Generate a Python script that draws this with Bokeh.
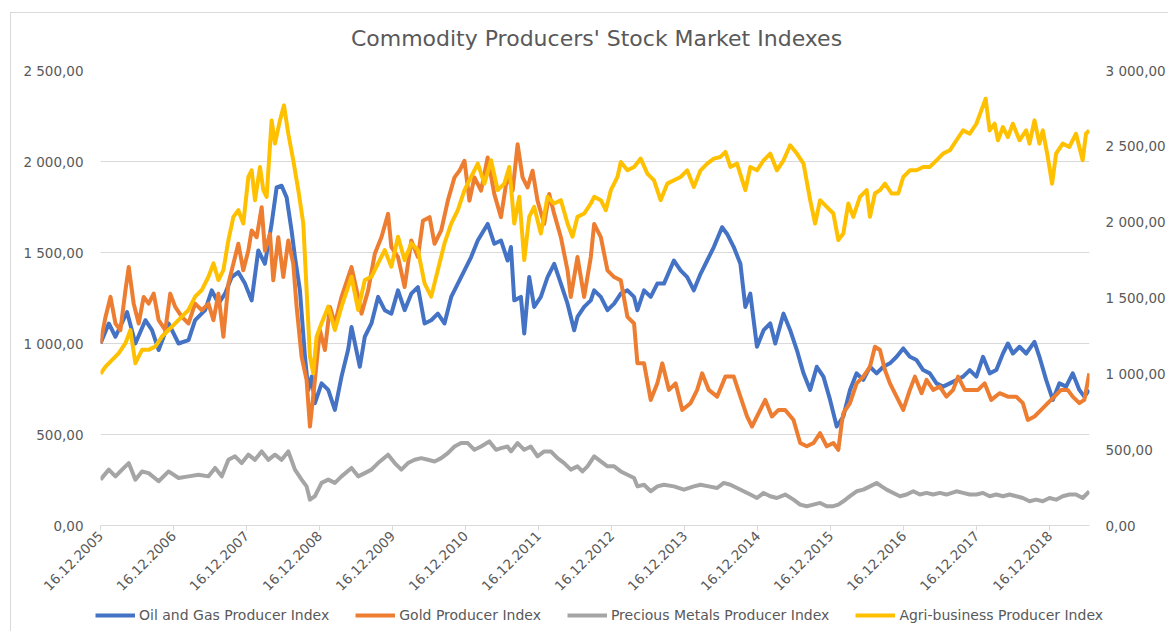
from datetime import datetime
from bokeh.plotting import figure
from bokeh.layouts import column
from bokeh.models import (Range1d, LinearAxis, FixedTicker, DatetimeTickFormatter,
                          Legend, LegendItem, Label)
from bokeh.embed import file_html
from bokeh.resources import INLINE

TITLE = "Commodity Producers' Stock Market Indexes"
NAMES = ["Oil and Gas Producer Index", "Gold Producer Index",
         "Precious Metals Producer Index", "Agri-business Producer Index"]
COLORS = ["#4472C4", "#ED7D31", "#A5A5A5", "#FFC000"]

# x values are decimal years
oil_t = [2005.956, 2006.070, 2006.161, 2006.320, 2006.434, 2006.571, 2006.662, 2006.753, 2006.889, 2007.026,
         2007.162, 2007.253, 2007.390, 2007.481, 2007.572, 2007.663, 2007.754, 2007.845, 2007.936, 2008.027,
         2008.118, 2008.209, 2008.300, 2008.369, 2008.437, 2008.505, 2008.573, 2008.619, 2008.687, 2008.756,
         2008.801, 2008.847, 2008.892, 2008.983, 2009.074, 2009.165, 2009.256, 2009.348, 2009.393, 2009.507,
         2009.575, 2009.666, 2009.757, 2009.848, 2009.939, 2010.030, 2010.121, 2010.212, 2010.303, 2010.394,
         2010.485, 2010.576, 2010.667, 2010.759, 2010.850, 2010.941, 2011.032, 2011.123, 2011.259, 2011.350,
         2011.441, 2011.532, 2011.578, 2011.623, 2011.714, 2011.760, 2011.828, 2011.896, 2011.987, 2012.079,
         2012.170, 2012.261, 2012.352, 2012.443, 2012.488, 2012.579, 2012.670, 2012.716, 2012.807, 2012.898,
         2012.989, 2013.080, 2013.171, 2013.262, 2013.308, 2013.399, 2013.490, 2013.581, 2013.672, 2013.808,
         2013.899, 2013.990, 2014.081, 2014.173, 2014.264, 2014.355, 2014.468, 2014.537, 2014.628, 2014.719,
         2014.787, 2014.855, 2014.946, 2015.037, 2015.128, 2015.197, 2015.310, 2015.401, 2015.493, 2015.584,
         2015.675, 2015.766, 2015.857, 2015.948, 2016.039, 2016.129, 2016.220, 2016.311, 2016.402, 2016.493,
         2016.584, 2016.675, 2016.766, 2016.857, 2016.948, 2017.039, 2017.130, 2017.221, 2017.312, 2017.403,
         2017.494, 2017.586, 2017.677, 2017.768, 2017.859, 2017.950, 2018.041, 2018.132, 2018.223, 2018.314,
         2018.382, 2018.450, 2018.541, 2018.632, 2018.746, 2018.814, 2018.906, 2018.997, 2019.088, 2019.179,
         2019.270, 2019.361, 2019.429, 2019.497]
oil_v = [1000, 1110, 1037, 1173, 1000, 1128, 1073, 964, 1110, 1000,
         1018, 1128, 1183, 1292, 1219, 1274, 1365, 1392, 1329, 1237,
         1511, 1438, 1657, 1858, 1867, 1803, 1620, 1475, 1292, 927,
         745, 818, 672, 781, 745, 635, 818, 968, 1091, 872,
         1037, 1110, 1256, 1183, 1164, 1292, 1183, 1274, 1310, 1110,
         1128, 1164, 1110, 1256, 1329, 1402, 1475, 1566, 1657, 1548,
         1566, 1456, 1530, 1237, 1256, 1055, 1365, 1201, 1256, 1365,
         1438, 1329, 1219, 1073, 1146, 1201, 1237, 1292, 1256, 1183,
         1219, 1274, 1292, 1256, 1183, 1292, 1256, 1329, 1329, 1456,
         1402, 1365, 1292, 1383, 1456, 1530, 1639, 1602, 1530, 1438,
         1201, 1274, 982, 1073, 1110, 1000, 1164, 1073, 964, 836,
         745, 872, 818, 690, 544, 599, 745, 836, 800, 872,
         836, 872, 891, 927, 973, 927, 909, 854, 836, 781,
         763, 781, 800, 818, 854, 818, 927, 836, 854, 945,
         1000, 945, 982, 945, 1009, 927, 800, 690, 781, 763,
         836, 745, 708, 745]

gold_t = [2005.956, 2006.025, 2006.093, 2006.161, 2006.229, 2006.298, 2006.343, 2006.411, 2006.480, 2006.548,
          2006.616, 2006.685, 2006.753, 2006.844, 2006.912, 2006.980, 2007.071, 2007.162, 2007.253, 2007.345,
          2007.436, 2007.504, 2007.572, 2007.640, 2007.709, 2007.800, 2007.845, 2007.913, 2007.982, 2008.027,
          2008.096, 2008.164, 2008.209, 2008.278, 2008.323, 2008.391, 2008.460, 2008.528, 2008.596, 2008.642,
          2008.710, 2008.778, 2008.824, 2008.892, 2008.960, 2009.029, 2009.097, 2009.165, 2009.256, 2009.393,
          2009.484, 2009.530, 2009.621, 2009.712, 2009.803, 2009.894, 2009.939, 2010.030, 2010.121, 2010.212,
          2010.303, 2010.372, 2010.463, 2010.531, 2010.622, 2010.713, 2010.804, 2010.872, 2010.941, 2011.009,
          2011.077, 2011.168, 2011.259, 2011.350, 2011.441, 2011.532, 2011.601, 2011.669, 2011.737, 2011.805,
          2011.874, 2011.942, 2012.033, 2012.101, 2012.170, 2012.261, 2012.352, 2012.397, 2012.488, 2012.579,
          2012.670, 2012.716, 2012.807, 2012.898, 2012.989, 2013.080, 2013.171, 2013.262, 2013.308, 2013.399,
          2013.490, 2013.581, 2013.649, 2013.740, 2013.831, 2013.922, 2014.036, 2014.127, 2014.195, 2014.286,
          2014.400, 2014.514, 2014.628, 2014.719, 2014.810, 2014.878, 2014.969, 2015.060, 2015.151, 2015.242,
          2015.333, 2015.447, 2015.538, 2015.629, 2015.720, 2015.811, 2015.902, 2015.993, 2016.061, 2016.107,
          2016.129, 2016.220, 2016.311, 2016.402, 2016.493, 2016.561, 2016.630, 2016.698, 2016.766, 2016.857,
          2016.948, 2017.039, 2017.108, 2017.199, 2017.267, 2017.358, 2017.449, 2017.540, 2017.631, 2017.699,
          2017.790, 2017.881, 2017.972, 2018.063, 2018.154, 2018.268, 2018.382, 2018.496, 2018.587, 2018.655,
          2018.746, 2018.837, 2018.928, 2019.019, 2019.110, 2019.201, 2019.270, 2019.361, 2019.429, 2019.497]
gold_v = [1000, 1146, 1256, 1110, 1073, 1292, 1420, 1219, 1110, 1256,
          1219, 1274, 1128, 1073, 1274, 1201, 1146, 1110, 1219, 1183,
          1219, 1128, 1274, 1037, 1329, 1475, 1548, 1402, 1511, 1621,
          1584, 1749, 1511, 1602, 1347, 1584, 1365, 1566, 1438, 1201,
          927, 800, 544, 800, 1073, 964, 1201, 1110, 1256, 1420,
          1256, 1164, 1292, 1493, 1584, 1712, 1530, 1475, 1310, 1566,
          1475, 1675, 1694, 1548, 1621, 1785, 1913, 1949, 2004, 1785,
          1913, 1840, 2022, 1821, 1694, 1931, 1840, 2095, 1913, 1858,
          1949, 1785, 1657, 1821, 1712, 1584, 1402, 1256, 1475, 1256,
          1475, 1657, 1584, 1402, 1365, 1347, 1146, 1110, 891, 891,
          690, 781, 891, 745, 781, 635, 672, 745, 836, 745,
          708, 818, 818, 708, 599, 544, 617, 690, 599, 635,
          635, 580, 453, 435, 453, 507, 435, 453, 416, 562,
          617, 672, 781, 818, 872, 982, 964, 854, 781, 708,
          635, 745, 818, 727, 800, 745, 763, 708, 745, 818,
          745, 745, 745, 781, 690, 727, 708, 708, 672, 580,
          599, 635, 672, 708, 745, 745, 708, 672, 690, 836]

prec_t = [2005.956, 2006.070, 2006.161, 2006.252, 2006.343, 2006.434, 2006.525, 2006.616, 2006.753, 2006.889,
          2007.026, 2007.162, 2007.299, 2007.436, 2007.527, 2007.618, 2007.709, 2007.800, 2007.891, 2007.982,
          2008.073, 2008.164, 2008.255, 2008.346, 2008.437, 2008.528, 2008.619, 2008.710, 2008.778, 2008.824,
          2008.892, 2008.983, 2009.074, 2009.165, 2009.256, 2009.393, 2009.484, 2009.575, 2009.666, 2009.757,
          2009.894, 2009.985, 2010.076, 2010.167, 2010.258, 2010.349, 2010.440, 2010.531, 2010.622, 2010.713,
          2010.804, 2010.895, 2010.986, 2011.077, 2011.168, 2011.282, 2011.373, 2011.441, 2011.532, 2011.578,
          2011.669, 2011.760, 2011.851, 2011.942, 2012.033, 2012.124, 2012.215, 2012.306, 2012.397, 2012.488,
          2012.556, 2012.625, 2012.716, 2012.807, 2012.898, 2012.989, 2013.080, 2013.171, 2013.262, 2013.308,
          2013.399, 2013.490, 2013.581, 2013.672, 2013.808, 2013.945, 2014.081, 2014.173, 2014.286, 2014.400,
          2014.491, 2014.582, 2014.673, 2014.764, 2014.855, 2014.946, 2015.037, 2015.128, 2015.219, 2015.333,
          2015.447, 2015.538, 2015.629, 2015.720, 2015.811, 2015.902, 2015.993, 2016.061, 2016.129, 2016.220,
          2016.311, 2016.402, 2016.493, 2016.584, 2016.652, 2016.721, 2016.812, 2016.903, 2016.994, 2017.085,
          2017.176, 2017.267, 2017.358, 2017.449, 2017.540, 2017.677, 2017.768, 2017.859, 2017.950, 2018.041,
          2018.132, 2018.223, 2018.314, 2018.405, 2018.496, 2018.587, 2018.678, 2018.769, 2018.860, 2018.951,
          2019.042, 2019.133, 2019.224, 2019.315, 2019.406, 2019.497]
prec_v = [252, 307, 270, 307, 343, 252, 297, 288, 243, 297,
          261, 270, 279, 270, 316, 270, 361, 380, 343, 389,
          361, 407, 361, 389, 361, 407, 307, 252, 215, 142,
          161, 234, 252, 234, 270, 316, 270, 288, 307, 343,
          389, 343, 307, 343, 361, 370, 361, 352, 370, 398,
          434, 453, 453, 416, 434, 462, 416, 425, 434, 407,
          453, 416, 434, 380, 407, 407, 370, 343, 307, 325,
          297, 325, 380, 352, 325, 325, 297, 279, 261, 215,
          224, 188, 215, 224, 215, 197, 215, 224, 215, 206,
          234, 224, 206, 188, 170, 151, 179, 161, 151, 170,
          142, 115, 106, 115, 124, 106, 106, 115, 133, 161,
          188, 197, 215, 234, 215, 197, 179, 161, 170, 188,
          170, 179, 170, 179, 170, 188, 179, 170, 170, 179,
          161, 170, 161, 170, 161, 151, 133, 142, 133, 151,
          142, 161, 170, 170, 151, 188]

agri_t = [2005.956, 2006.025, 2006.116, 2006.207, 2006.298, 2006.366, 2006.434, 2006.525, 2006.616, 2006.707,
          2006.798, 2006.889, 2006.980, 2007.071, 2007.162, 2007.253, 2007.345, 2007.436, 2007.504, 2007.572,
          2007.640, 2007.709, 2007.777, 2007.845, 2007.913, 2007.982, 2008.027, 2008.073, 2008.141, 2008.187,
          2008.232, 2008.300, 2008.346, 2008.414, 2008.469, 2008.528, 2008.596, 2008.665, 2008.733, 2008.778,
          2008.824, 2008.869, 2008.915, 2008.983, 2009.074, 2009.165, 2009.256, 2009.393, 2009.484, 2009.575,
          2009.666, 2009.757, 2009.848, 2009.939, 2010.030, 2010.121, 2010.212, 2010.303, 2010.394, 2010.485,
          2010.576, 2010.667, 2010.759, 2010.850, 2010.941, 2011.032, 2011.123, 2011.214, 2011.305, 2011.396,
          2011.487, 2011.555, 2011.623, 2011.692, 2011.760, 2011.828, 2011.896, 2011.987, 2012.079, 2012.170,
          2012.261, 2012.352, 2012.420, 2012.488, 2012.579, 2012.670, 2012.716, 2012.807, 2012.875, 2012.944,
          2013.035, 2013.080, 2013.171, 2013.262, 2013.353, 2013.444, 2013.535, 2013.626, 2013.717, 2013.808,
          2013.899, 2013.990, 2014.081, 2014.173, 2014.264, 2014.355, 2014.446, 2014.514, 2014.582, 2014.673,
          2014.787, 2014.855, 2014.946, 2015.037, 2015.128, 2015.219, 2015.310, 2015.401, 2015.493, 2015.584,
          2015.675, 2015.743, 2015.811, 2015.902, 2015.993, 2016.061, 2016.129, 2016.197, 2016.265, 2016.356,
          2016.448, 2016.493, 2016.561, 2016.630, 2016.698, 2016.789, 2016.880, 2016.948, 2017.039, 2017.130,
          2017.221, 2017.312, 2017.403, 2017.494, 2017.586, 2017.677, 2017.768, 2017.859, 2017.950, 2018.018,
          2018.077, 2018.132, 2018.200, 2018.246, 2018.314, 2018.382, 2018.450, 2018.541, 2018.632, 2018.678,
          2018.746, 2018.814, 2018.860, 2018.928, 2018.987, 2019.042, 2019.133, 2019.224, 2019.315, 2019.406,
          2019.452, 2019.497]
agri_v = [1000, 1048, 1092, 1136, 1202, 1289, 1070, 1158, 1158, 1180,
          1246, 1289, 1333, 1377, 1421, 1509, 1553, 1640, 1728, 1618,
          1684, 1882, 2035, 2079, 1991, 2298, 2342, 2145, 2364, 2211,
          2167, 2671, 2518, 2671, 2770, 2583, 2408, 2211, 1991, 1553,
          1114, 1004, 1246, 1333, 1443, 1289, 1443, 1640, 1421, 1618,
          1640, 1728, 1816, 1706, 1904, 1750, 1860, 1816, 1597, 1509,
          1684, 1860, 1991, 2079, 2211, 2298, 2386, 2254, 2408, 2211,
          2254, 2364, 1991, 2167, 1750, 2035, 2101, 1925, 2167, 2123,
          2145, 1991, 1904, 2035, 2057, 2123, 2167, 2145, 2079, 2211,
          2298, 2397, 2342, 2364, 2419, 2320, 2276, 2145, 2254, 2276,
          2298, 2342, 2232, 2342, 2386, 2419, 2430, 2463, 2364, 2386,
          2211, 2364, 2342, 2408, 2452, 2342, 2408, 2507, 2452, 2386,
          2145, 1991, 2145, 2101, 2057, 1882, 1925, 2123, 2035, 2167,
          2211, 2035, 2189, 2211, 2254, 2189, 2189, 2298, 2342, 2342,
          2364, 2364, 2408, 2452, 2474, 2540, 2605, 2583, 2649, 2737,
          2814, 2605, 2649, 2540, 2627, 2561, 2649, 2540, 2605, 2518,
          2671, 2518, 2605, 2430, 2254, 2452, 2518, 2496, 2583, 2408,
          2583, 2605]

tick_years = list(range(2005, 2019))
left_ticks = [0, 500, 1000, 1500, 2000, 2500]
left_labels = ["0,00", "500,00", "1 000,00", "1 500,00", "2 000,00", "2 500,00"]
right_ticks = [0, 500, 1000, 1500, 2000, 2500, 3000]
right_labels = ["0,00", "500,00", "1 000,00", "1 500,00", "2 000,00", "2 500,00", "3 000,00"]

FONT = "DejaVu Sans"
TXT = "#595959"
GRID = "#D9D9D9"
W = 1157


def to_dt(y):
    yr = int(y)
    a, b = datetime(yr, 1, 1), datetime(yr + 1, 1, 1)
    return a + (b - a) * (y - yr)


def ms(d):
    return (d - datetime(1970, 1, 1)).total_seconds() * 1000.0


def no_align(f):
    try:
        f.frame_align = False
    except Exception:
        pass


def blank(h):
    f = figure(width=W, height=h, x_range=Range1d(0, 1), y_range=Range1d(0, 1),
               x_axis_location=None, y_axis_location=None, title=None,
               toolbar_location=None, output_backend="svg", min_border=0)
    f.outline_line_color = None
    f.background_fill_color = "white"
    f.border_fill_color = "white"
    f.grid.visible = False
    no_align(f)
    return f


# ---- header with the title ----
head = blank(45)
head.add_layout(Label(x=585, y=20, x_units="screen", y_units="screen", text=TITLE,
                      text_align="center", text_baseline="middle", text_font=FONT,
                      text_font_size="22px", text_color=TXT))

# ---- main chart ----
p = figure(width=W, height=545, x_axis_type="datetime", title=None,
           x_range=Range1d(start=datetime(2005, 12, 16), end=to_dt(2019.50)),
           y_range=Range1d(0, 2500),
           output_backend="svg", toolbar_location=None,
           min_border_left=89, min_border_right=76, min_border_top=12, min_border_bottom=78)
p.outline_line_color = None
p.background_fill_color = "white"
p.border_fill_color = "white"
no_align(p)

p.extra_y_ranges = {"right": Range1d(0, 3000)}
rax = LinearAxis(y_range_name="right")
p.add_layout(rax, "right")

lax = p.yaxis[0]
lax.ticker = FixedTicker(ticks=left_ticks)
lax.major_label_overrides = dict(zip(left_ticks, left_labels))
rax.ticker = FixedTicker(ticks=right_ticks)
rax.major_label_overrides = dict(zip(right_ticks, right_labels))
for ax, so in ((lax, 17), (rax, 16)):
    ax.axis_line_color = None
    ax.major_tick_line_color = None
    ax.minor_tick_line_color = None
    ax.major_tick_out = 0
    ax.major_tick_in = 0
    ax.major_label_standoff = so
    ax.major_label_text_font = FONT
    ax.major_label_text_font_size = "13.5px"
    ax.major_label_text_color = TXT

xax = p.xaxis[0]
xax.ticker = FixedTicker(ticks=[ms(datetime(y, 12, 16)) for y in tick_years])
fmt = "%d.%m.%Y"
xax.formatter = DatetimeTickFormatter(milliseconds=fmt, seconds=fmt, minsec=fmt, minutes=fmt,
                                      hourmin=fmt, hours=fmt, days=fmt, months=fmt, years=fmt)
xax.major_label_orientation = 0.785398
xax.axis_line_color = GRID
xax.major_tick_line_color = GRID
xax.major_tick_out = 5
xax.major_tick_in = 0
xax.minor_tick_line_color = None
xax.major_label_standoff = 3
xax.major_label_text_font = FONT
xax.major_label_text_font_size = "13.5px"
xax.major_label_text_color = TXT

p.xgrid.visible = False
p.ygrid.ticker = FixedTicker(ticks=left_ticks)
p.ygrid.grid_line_color = GRID

data = [(oil_t, oil_v, "default"), (gold_t, gold_v, "default"),
        (prec_t, prec_v, "default"), (agri_t, agri_v, "right")]
for (t, v, rng), col in zip(data, COLORS):
    p.line([to_dt(x) for x in t], v, line_color=col, line_width=4,
           line_join="round", y_range_name=rng)

# ---- legend strip (its key lines lie outside this strip's 0..1 view) ----
leg = blank(28)
keys = [leg.line(t, v, line_color=c, line_width=4) for (t, v, _), c in zip(data, COLORS)]
legend = Legend(items=[LegendItem(label=n, renderers=[r]) for n, r in zip(NAMES, keys)],
                orientation="horizontal", location=(84, 8),
                glyph_width=40, glyph_height=16, label_height=16, label_standoff=4,
                spacing=26, padding=0, margin=0,
                label_text_font=FONT, label_text_font_size="14px", label_text_color=TXT,
                background_fill_alpha=0, border_line_alpha=0)
leg.add_layout(legend)

page = column(head, p, leg, spacing=0,
              styles={"border-left": "1px solid #D9D9D9", "border-top": "1px solid #D9D9D9",
                      "margin-left": "10px", "margin-top": "12px"})

open("out.html", "w").write(file_html(page, INLINE))
